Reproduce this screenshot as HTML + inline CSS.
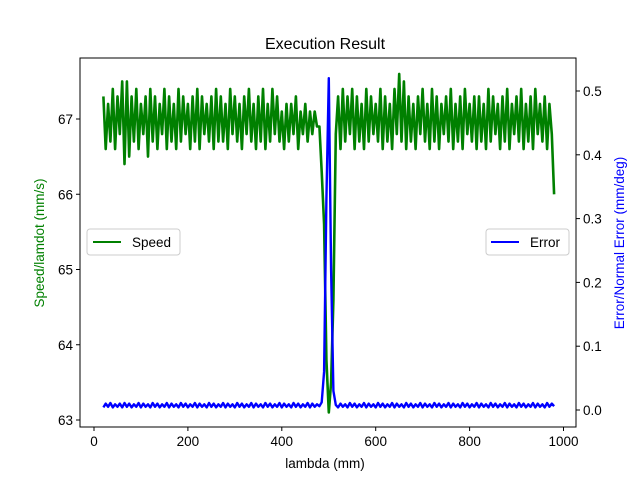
<!DOCTYPE html>
<html><head><meta charset="utf-8"><style>
body{margin:0;background:#fff;}
svg text{font-family:"Liberation Sans","DejaVu Sans",sans-serif;}
</style></head><body>
<svg id="chart" width="640" height="480" viewBox="0 0 640 480">
<rect width="640" height="480" fill="#fff"/>
<text x="325" y="49" font-size="16" text-anchor="middle">Execution Result</text>
<g id="plot"></g>
<rect x="80" y="58" width="496" height="369" fill="none" stroke="#000" stroke-width="1"/>
<g id="axes"></g>
<text x="325" y="468" font-size="13.5" text-anchor="middle">lambda (mm)</text>
<text transform="translate(44,243) rotate(-90)" font-size="13.5" text-anchor="middle" fill="green">Speed/lamdot (mm/s)</text>
<text transform="translate(624,243) rotate(-90)" font-size="13.5" text-anchor="middle" fill="blue">Error/Normal Error (mm/deg)</text>
<g>
<rect x="87" y="229" width="93" height="26" rx="3" fill="#fff" stroke="#ccc"/>
<line x1="93" y1="242" x2="121" y2="242" stroke="green" stroke-width="2"/>
<text x="132" y="247" font-size="13.5">Speed</text>
</g>
<g>
<rect x="486" y="229" width="83" height="26" rx="3" fill="#fff" stroke="#ccc"/>
<line x1="491" y1="242" x2="519" y2="242" stroke="blue" stroke-width="2"/>
<text x="530" y="247" font-size="13.5">Error</text>
</g>
</svg>
<script>
const xStart = 20, xStep = 5;
const speedValues = [
67.3,66.6,67.2,66.7,67.4,66.6,67.3,66.8,67.5,66.4,
67.5,66.5,67.3,66.7,67.4,66.6,67.2,66.8,67.3,66.5,
67.4,66.7,67.3,66.6,67.2,66.8,67.4,66.6,67.3,66.7,
67.2,66.6,67.4,66.7,67.3,66.8,67.2,66.6,67.3,66.7,
67.4,66.6,67.3,66.8,67.2,66.7,67.3,66.6,67.4,66.7,
67.3,66.7,67.2,66.6,67.4,66.8,67.3,66.7,67.2,66.6,
67.3,66.8,67.4,66.7,67.2,66.6,67.3,66.7,67.4,66.6,
67.2,66.7,67.4,66.8,67.3,66.7,67.1,66.6,67.2,66.7,
67.2,66.8,67.3,66.6,67.1,66.8,67.2,66.7,67.1,66.8,
67.1,66.9,66.9,66.3,65.6,63.8,63.1,63.5,64.6,66.8,
67.3,66.6,67.4,66.7,67.3,66.8,67.4,66.6,67.3,66.7,
67.2,66.6,67.4,66.7,67.3,66.8,67.2,66.7,67.4,66.6,
67.3,66.7,67.2,66.6,67.4,66.8,67.6,66.7,67.5,66.6,
67.3,66.7,67.2,66.6,67.3,66.8,67.4,66.7,67.2,66.6,
67.4,66.7,67.3,66.6,67.2,66.8,67.3,66.7,67.4,66.6,
67.2,66.7,67.3,66.6,67.4,66.8,67.2,66.7,67.3,66.6,
67.3,66.7,67.2,66.6,67.4,66.7,67.3,66.8,67.2,66.6,
67.3,66.7,67.4,66.6,67.2,66.8,67.3,66.7,67.4,66.6,
67.2,66.7,67.3,66.6,67.4,66.8,67.2,66.7,67.3,66.6,
67.2,66.8,66.0];
const errorValues = [
0.004,0.010,0.005,0.011,0.004,0.009,0.005,0.010,0.004,0.011,
0.005,0.010,0.004,0.009,0.005,0.011,0.004,0.010,0.005,0.009,
0.004,0.011,0.005,0.010,0.004,0.009,0.005,0.011,0.004,0.010,
0.005,0.009,0.004,0.011,0.005,0.010,0.004,0.009,0.005,0.011,
0.004,0.010,0.005,0.009,0.004,0.011,0.005,0.010,0.004,0.009,
0.005,0.011,0.004,0.010,0.005,0.009,0.004,0.011,0.005,0.010,
0.004,0.009,0.005,0.011,0.004,0.010,0.005,0.009,0.004,0.011,
0.005,0.010,0.004,0.009,0.005,0.011,0.004,0.010,0.005,0.009,
0.004,0.011,0.005,0.010,0.004,0.009,0.005,0.011,0.004,0.010,
0.005,0.009,0.006,0.012,0.060,0.330,0.520,0.220,0.030,0.008,
0.004,0.010,0.005,0.009,0.004,0.011,0.005,0.010,0.004,0.009,
0.005,0.011,0.004,0.010,0.005,0.009,0.004,0.011,0.005,0.010,
0.004,0.009,0.005,0.011,0.004,0.010,0.005,0.009,0.004,0.011,
0.005,0.010,0.004,0.009,0.005,0.011,0.004,0.010,0.005,0.009,
0.004,0.011,0.005,0.010,0.004,0.009,0.005,0.011,0.004,0.010,
0.005,0.009,0.004,0.011,0.005,0.010,0.004,0.009,0.005,0.011,
0.004,0.010,0.005,0.009,0.004,0.011,0.005,0.010,0.004,0.009,
0.005,0.011,0.004,0.010,0.005,0.009,0.004,0.011,0.005,0.010,
0.004,0.009,0.005,0.011,0.004,0.010,0.005,0.009,0.004,0.011,
0.005,0.010,0.006];
const xTicks = [0,200,400,600,800,1000];
const leftTicks = [63,64,65,66,67];
const rightTicks = [0.0,0.1,0.2,0.3,0.4,0.5];

const NS = "http://www.w3.org/2000/svg";
const xScale = v => 94 + v * 0.4695;
const ySpeed = v => 119 + (67 - v) * 75.25;
const yErr = v => 410 - v * 638;

function mk(tag, attrs, parent){ const e=document.createElementNS(NS,tag); for(const k in attrs) e.setAttribute(k,attrs[k]); parent.appendChild(e); return e; }
const plot = document.getElementById('plot');
const axes = document.getElementById('axes');

let d = speedValues.map((v,i)=>(i?'L':'M')+xScale(xStart+i*xStep).toFixed(1)+','+ySpeed(v).toFixed(1)).join('');
const sp = mk('path',{d:d,fill:'none',stroke:'green','stroke-width':2.6,'stroke-linejoin':'round'},plot);


d = errorValues.map((v,i)=>(i?'L':'M')+xScale(xStart+i*xStep).toFixed(1)+','+yErr(v).toFixed(1)).join('');
const ep = mk('path',{d:d,fill:'none',stroke:'blue','stroke-width':2.4,'stroke-linejoin':'round'},plot);



xTicks.forEach(t=>{
  const x = xScale(t);
  mk('line',{x1:x,y1:427,x2:x,y2:431,stroke:'#000'},axes);
  const tx = mk('text',{x:x,y:446,'font-size':13.5,'text-anchor':'middle'},axes);
  tx.textContent = t;
  
  
});
leftTicks.forEach(t=>{
  const y = ySpeed(t);
  mk('line',{x1:76,y1:y,x2:80,y2:y,stroke:'#000'},axes);
  const tx = mk('text',{x:73,y:y+5,'font-size':13.5,'text-anchor':'end'},axes);
  tx.textContent = t;
  
  
});
rightTicks.forEach(t=>{
  const y = yErr(t);
  mk('line',{x1:576,y1:y,x2:580,y2:y,stroke:'#000'},axes);
  const tx = mk('text',{x:583,y:y+5,'font-size':13.5},axes);
  tx.textContent = t.toFixed(1);
  
  
});
</script>
</body></html>
